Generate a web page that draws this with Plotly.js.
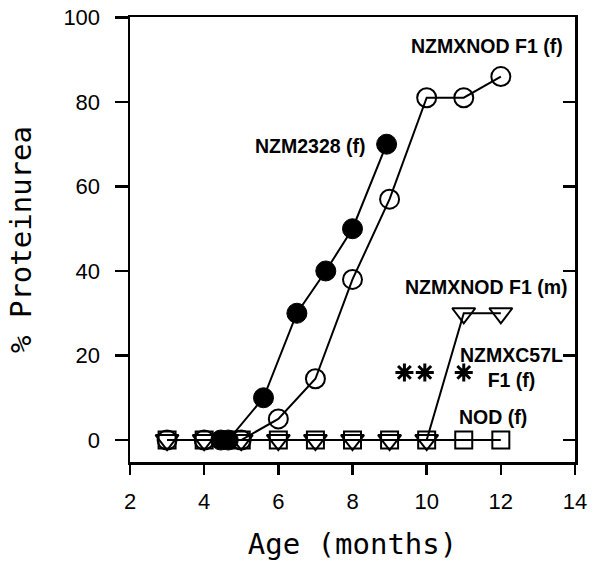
<!DOCTYPE html>
<html>
<head>
<meta charset="utf-8">
<script src="https://cdn.plot.ly/plotly-3.0.1.min.js"></script>
<style>html,body{margin:0;padding:0;background:#fff;}#chart{width:600px;height:582px;}</style>
</head>
<body>
<div id="chart"></div>
<script>
// Data
const nzm2328_x = [4.45, 4.65, 5.6, 6.5, 7.28, 8, 8.92];
const nzm2328_y = [0, 0, 10, 30, 40, 50, 70];

const f1f_x = [3, 4, 5, 6, 7, 8, 9, 10, 11, 12];
const f1f_y = [0, 0, 0, 5, 14.5, 38, 57, 81, 81, 86];

const f1m_x = [3, 4, 5, 6, 7, 8, 9, 10, 11, 12];
const f1m_y = [0, 0, 0, 0, 0, 0, 0, 0, 30, 30];

const nod_x = [3, 4, 5, 6, 7, 8, 9, 10, 11, 12];
const nod_y = [0, 0, 0, 0, 0, 0, 0, 0, 0, 0];

const c57_x = [9.4, 9.95, 11];
const c57_y = [16, 16, 16];

const xTicks = [2, 4, 6, 8, 10, 12, 14];
const yTicks = [0, 20, 40, 60, 80, 100];

const labels = [
  {text: "NZMXNOD F1 (f)", x: 11.62, y: 93.3, xanchor: "center"},
  {text: "NZM2328 (f)", x: 8.41, y: 69.6, xanchor: "right"},
  {text: "NZMXNOD F1 (m)", x: 11.62, y: 36.2, xanchor: "center"},
  {text: "NZMXC57L<br>F1 (f)", x: 12.3, y: 17.2, xanchor: "center"},
  {text: "NOD (f)", x: 11.78, y: 5.4, xanchor: "center"}
];

const blk = "#000";
const traces = [
  {x: nod_x, y: nod_y, mode: "lines+markers", line: {color: blk, width: 2},
   marker: {symbol: "square-open", size: 17, color: blk, line: {width: 2}}},
  {x: f1m_x, y: f1m_y, mode: "lines+markers", line: {color: blk, width: 2},
   marker: {symbol: "triangle-down-open", size: 20, color: blk, line: {width: 2}}},
  {x: f1f_x, y: f1f_y, mode: "lines+markers", line: {color: blk, width: 2},
   marker: {symbol: "circle-open", size: 19, color: blk, line: {width: 2}}},
  {x: nzm2328_x, y: nzm2328_y, mode: "lines+markers", line: {color: blk, width: 2},
   marker: {symbol: "circle", size: 20, color: blk, line: {width: 1, color: blk}}},
  {x: c57_x, y: c57_y, mode: "markers",
   marker: {symbol: "asterisk", size: 15, color: blk, line: {width: 3, color: blk}}},
  {x: c57_x, y: c57_y, mode: "markers",
   marker: {symbol: "circle", size: 8, color: blk}},
  {x: [], y: [], yaxis: "y2", mode: "markers"}
];

const layout = {
  width: 600, height: 582,
  margin: {l: 130, r: 25, t: 17, b: 120},
  paper_bgcolor: "#fff", plot_bgcolor: "#fff",
  showlegend: false,
  font: {family: "Liberation Sans, Arial, sans-serif", color: blk},
  xaxis: {
    range: [2, 14], tickvals: xTicks, ticktext: xTicks.map(String),
    showgrid: false, zeroline: false, showline: true, linewidth: 2.5, linecolor: blk,
    mirror: true, ticks: "outside", ticklen: 10, tickwidth: 2.5, tickcolor: blk,
    ticklabelstandoff: 8,
    tickfont: {size: 22, family: "Liberation Sans, Arial, sans-serif", color: blk},
    title: {text: "Age (months)", font: {size: 29, family: "DejaVu Sans Mono, monospace", color: blk}, standoff: 21}
  },
  yaxis: {
    range: [-5.2, 100.1], tickvals: yTicks, ticktext: yTicks.map(String),
    showgrid: false, zeroline: false, showline: true, linewidth: 2.5, linecolor: blk,
    ticks: "outside", ticklen: 13, tickwidth: 2.5, tickcolor: blk,
    ticklabelstandoff: 10,
    tickfont: {size: 22, family: "Liberation Sans, Arial, sans-serif", color: blk},
    title: {text: "% Proteinurea", font: {size: 29, family: "DejaVu Sans Mono, monospace", color: blk}, standoff: 23}
  },
  yaxis2: {
    overlaying: "y", side: "right", range: [-5.2, 100.1], tickvals: yTicks,
    showticklabels: false, showgrid: false, zeroline: false, showline: true,
    linewidth: 2.5, linecolor: blk, ticks: "inside", ticklen: 12, tickwidth: 2.5, tickcolor: blk
  },
  annotations: labels.map(l => ({
    text: l.text, x: l.x, y: l.y, xref: "x", yref: "y", xanchor: l.xanchor, yanchor: "middle",
    showarrow: false, font: {size: 19.5, family: "Liberation Sans, Arial, sans-serif", weight: "bold", color: blk}
  }))
};

Plotly.newPlot("chart", traces, layout, {displayModeBar: false, staticPlot: true});
</script>
</body>
</html>
